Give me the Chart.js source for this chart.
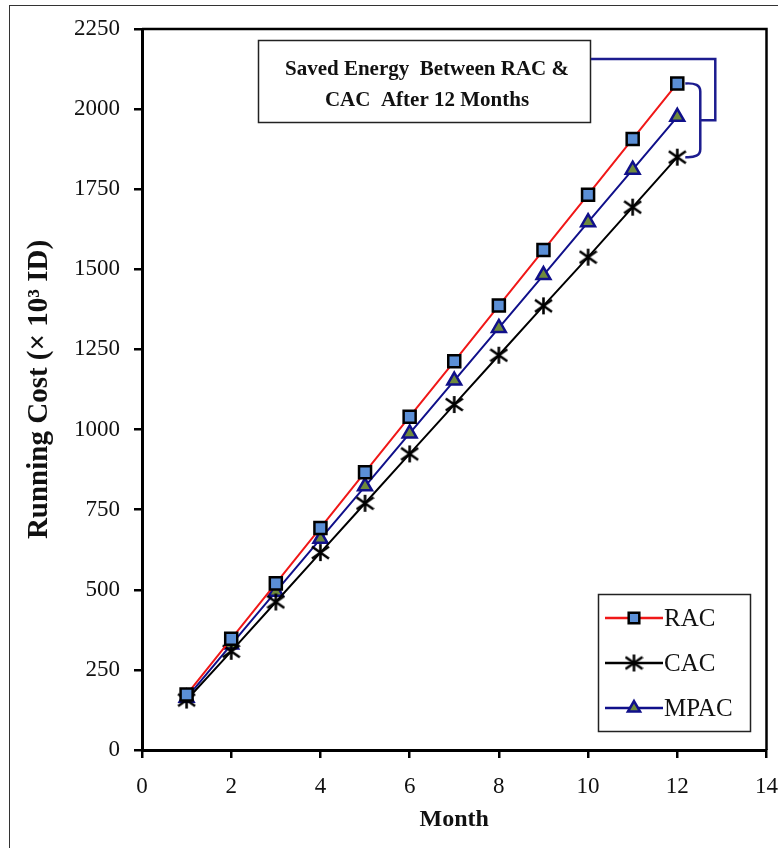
<!DOCTYPE html>
<html>
<head>
<meta charset="utf-8">
<script src="https://cdn.jsdelivr.net/npm/chart.js@4.4.0/dist/chart.umd.min.js"></script>
<style>
  html,body{margin:0;padding:0;background:#fff;}
  #wrap{position:relative;width:778px;height:848px;}
</style>
</head>
<body>
<div id="wrap"><canvas id="chart" width="778" height="848"></canvas></div>
<script>
/* ---- data ---- */
const months   = [1,2,3,4,5,6,7,8,9,10,11,12];
const racCost  = [173,347,520,693,867,1040,1213,1387,1560,1733,1907,2080];
const cacCost  = [156,308,462,616,770,924,1078,1232,1386,1538,1694,1850];
const mpacCost = [163,329,494,659,823,988,1153,1317,1482,1647,1811,1976];
const seriesNames = ['RAC','CAC','MPAC'];
const noteLines = ['Saved Energy  Between RAC &','CAC  After 12 Months'];

const SERIF = '"Liberation Serif","Times New Roman",serif';
const NAVY = '#1c1c8f';

const pts = arr => months.map((m,i)=>({x:m,y:arr[i]}));

// six-armed asterisk used for CAC
function makeAsterisk(size) {
  const c = document.createElement('canvas');
  c.width = size; c.height = size;
  const g = c.getContext('2d');
  const m = size / 2, r = size / 2 - 1;
  g.strokeStyle = '#000'; g.lineWidth = 2.6; g.lineCap = 'butt';
  g.beginPath();
  g.moveTo(m, m - r); g.lineTo(m, m + r);
  g.moveTo(m - r, m - r * 0.7); g.lineTo(m + r, m + r * 0.7);
  g.moveTo(m - r, m + r * 0.7); g.lineTo(m + r, m - r * 0.7);
  g.stroke();
  return c;
}
const starMark = makeAsterisk(19);

// frame, note box, bracket and legend
const extras = {
  id:'extras',
  afterDraw(chart) {
    const {ctx, chartArea:a, scales:{x,y}} = chart;
    ctx.save();
    // outer figure border (left and top visible)
    ctx.strokeStyle = '#333'; ctx.lineWidth = 1;
    ctx.strokeRect(9.5, 5.5, 800, 900);
    // plot box top/right
    ctx.strokeStyle = '#000'; ctx.lineWidth = 2.5;
    ctx.beginPath();
    ctx.moveTo(a.left, a.top); ctx.lineTo(a.right, a.top); ctx.lineTo(a.right, a.bottom);
    ctx.stroke();

    // note box
    ctx.fillStyle = '#fff';
    ctx.fillRect(258, 40, 332, 82);
    ctx.strokeStyle = '#222'; ctx.lineWidth = 1.5;
    ctx.strokeRect(258.5, 40.5, 332, 82);
    ctx.fillStyle = '#111';
    ctx.font = 'bold 21px ' + SERIF;
    ctx.textAlign = 'center'; ctx.textBaseline = 'middle';
    ctx.fillText(noteLines[0], 427, 70);
    ctx.fillText(noteLines[1], 427, 101);

    // brackets
    const xr = x.getPixelForValue(12);
    const yR = y.getPixelForValue(racCost[11]);
    const yC = y.getPixelForValue(cacCost[11]);
    const yM = (yR + yC) / 2;
    ctx.strokeStyle = NAVY; ctx.lineWidth = 2.5;
    ctx.beginPath();
    ctx.moveTo(xr + 8, yR);
    ctx.quadraticCurveTo(xr + 23, yR - 1, xr + 23, yR + 8);
    ctx.lineTo(xr + 23, yC - 8);
    ctx.quadraticCurveTo(xr + 23, yC + 1, xr + 8, yC);
    ctx.moveTo(xr + 23, yM);
    ctx.lineTo(xr + 38, yM);
    ctx.lineTo(xr + 38, 59);
    ctx.lineTo(591, 59);
    ctx.stroke();

    // legend
    const lx = 598, ly = 594, lw = 152, lh = 137;
    ctx.fillStyle = '#fff'; ctx.fillRect(lx, ly, lw, lh);
    ctx.strokeStyle = '#222'; ctx.lineWidth = 1.5;
    ctx.strokeRect(lx + 0.5, ly + 0.5, lw, lh);
    chart.data.datasets.forEach((ds, i) => {
      const cy = ly + 24 + i * 45;
      ctx.strokeStyle = ds.borderColor; ctx.lineWidth = 2.5;
      ctx.beginPath(); ctx.moveTo(lx + 7, cy); ctx.lineTo(lx + 65, cy); ctx.stroke();
      ctx.fillStyle = ds.pointBackgroundColor;
      ctx.strokeStyle = ds.pointBorderColor;
      ctx.lineWidth = ds.pointBorderWidth;
      Chart.helpers.drawPoint(ctx, {
        pointStyle: ds.pointStyle, radius: ds.pointRadius - 1, borderWidth: ds.pointBorderWidth, rotation: 0
      }, lx + 36, cy);
      ctx.fillStyle = '#111';
      ctx.font = '25px ' + SERIF;
      ctx.textAlign = 'left'; ctx.textBaseline = 'middle';
      ctx.fillText(ds.label, lx + 66, cy + 1);
    });
    ctx.restore();
  }
};

new Chart(document.getElementById('chart'), {
  type: 'line',
  data: {
    datasets: [
      {label: seriesNames[0], data: pts(racCost), borderColor: '#f01818', borderWidth: 2,
       pointStyle: 'rect', pointRadius: 8.5, pointBackgroundColor: '#5b8fd6', pointBorderColor: '#000', pointBorderWidth: 2.5},
      {label: seriesNames[1], data: pts(cacCost), borderColor: '#000', borderWidth: 2,
       pointStyle: starMark, pointRadius: 9, pointBackgroundColor: '#000', pointBorderColor: '#000', pointBorderWidth: 2.5},
      {label: seriesNames[2], data: pts(mpacCost), borderColor: '#10108a', borderWidth: 2,
       pointStyle: 'triangle', pointRadius: 8, pointBackgroundColor: '#6f8a3c', pointBorderColor: '#10108a', pointBorderWidth: 2.5}
    ]
  },
  options: {
    responsive: false,
    animation: false,
    layout: {padding: {left: 0, top: 29, right: 0, bottom: 0}},
    plugins: {legend: {display: false}, tooltip: {enabled: false}},
    scales: {
      x: {
        type: 'linear', min: 0, max: 14,
        ticks: {stepSize: 2, color: '#111', font: {family: SERIF, size: 23}, padding: 15, callback: v => String(v)},
        grid: {drawOnChartArea: false, tickLength: 8, color: '#000', lineWidth: 2.5},
        border: {color: '#000', width: 3},
        title: {display: true, text: 'Month', color: '#111', font: {family: SERIF, size: 24, weight: 'bold'}, padding: {top: 0, bottom: 14}},
        afterFit: s => { s.height = 98; s.paddingRight = 11; s.paddingLeft = 0; }
      },
      y: {
        min: 0, max: 2250,
        ticks: {stepSize: 250, color: '#111', font: {family: SERIF, size: 23}, padding: 14, callback: v => String(v)},
        grid: {drawOnChartArea: false, tickLength: 8, color: '#000', lineWidth: 2.5},
        border: {color: '#000', width: 3},
        title: {display: true, text: 'Running Cost (× 10³ ID)', color: '#111', font: {family: SERIF, size: 29, weight: 'bold'}, padding: {top: 22, bottom: 0}},
        afterFit: s => { s.width = 142; s.paddingTop = 0; s.paddingBottom = 0; }
      }
    }
  },
  plugins: [extras]
});
</script>
</body>
</html>
